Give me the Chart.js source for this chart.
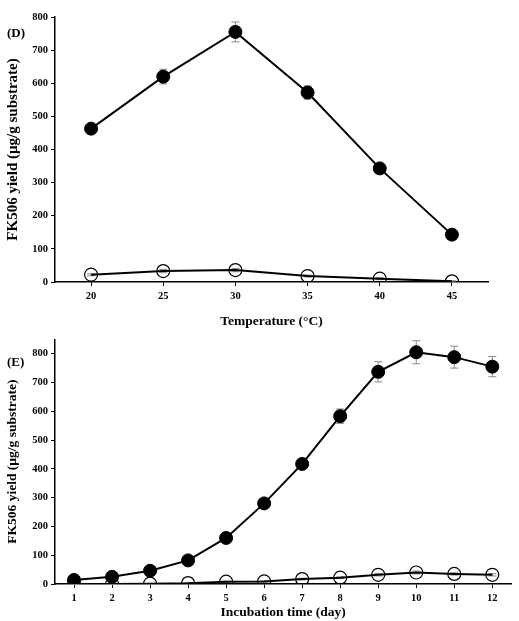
<!DOCTYPE html>
<html>
<head>
<meta charset="utf-8">
<script src="https://cdn.jsdelivr.net/npm/chart.js@4"></script>
<style>
  body { margin: 0; background: #fff; }
  .panel { position: absolute; left: 0; width: 519px; }
  .tag { position: absolute; left: 7px; font: bold 13px "Liberation Serif", serif; color: #000; }
</style>
</head>
<body>
<div class="panel" style="top:0;height:330px"><canvas id="chartD"></canvas></div>
<div class="panel" style="top:330px;height:291px"><canvas id="chartE"></canvas></div>
<div class="tag" style="top:25px">(D)</div>
<div class="tag" style="top:354px">(E)</div>
<script>
// panel D : temperature
const tempLabels = ["20", "25", "30", "35", "40", "45"];
const tempFilled = [463, 620, 755, 572, 343, 143];
const tempFilledErr = [12, 22, 30, 20, 8, 6];
const tempOpen = [22, 33, 36, 18, 10, 2];
const tempOpenErr = [3, 5, 5, 3, 3, 2];

// panel E : incubation time
const dayLabels = ["1", "2", "3", "4", "5", "6", "7", "8", "9", "10", "11", "12"];
const dayFilled = [14, 25, 46, 82, 160, 280, 417, 583, 737, 805, 788, 755];
const dayFilledErr = [4, 5, 6, 8, 10, 12, 12, 25, 35, 40, 38, 35];
const dayOpen = [0, 0, 1, 3, 8, 9, 17, 22, 32, 40, 35, 32];
const dayOpenErr = [1, 1, 1, 1, 2, 2, 3, 3, 4, 5, 4, 4];

const yTitle = "FK506 yield (\u00b5g/g substrate)";
const serif = "'Liberation Serif', 'Times New Roman', serif";

// grey error bars drawn under the markers
const errorBars = {
  id: "errorBars",
  beforeDatasetsDraw(chart) {
    const ctx = chart.ctx;
    const y = chart.scales.y;
    ctx.save();
    ctx.strokeStyle = "#8a8a8a";
    ctx.lineWidth = 1;
    chart.data.datasets.forEach((ds, i) => {
      const meta = chart.getDatasetMeta(i);
      meta.data.forEach((pt, j) => {
        const e = ds.errors[j];
        const top = y.getPixelForValue(ds.data[j] + e);
        const bot = y.getPixelForValue(ds.data[j] - e);
        ctx.beginPath();
        ctx.moveTo(pt.x, top); ctx.lineTo(pt.x, bot);
        ctx.moveTo(pt.x - 4, top); ctx.lineTo(pt.x + 4, top);
        ctx.moveTo(pt.x - 4, bot); ctx.lineTo(pt.x + 4, bot);
        ctx.stroke();
      });
    });
    ctx.restore();
  }
};

function makeChart(id, labels, filled, filledErr, open, openErr, xTitle, yMax, pad, xHeight, yTitleSize) {
  return new Chart(document.getElementById(id), {
    type: "line",
    plugins: [errorBars],
    data: {
      labels: labels,
      datasets: [
        {
          data: filled, errors: filledErr,
          borderColor: "#000", backgroundColor: "#000", borderWidth: 2,
          pointRadius: 6.5, pointBorderWidth: 1, tension: 0
        },
        {
          data: open, errors: openErr,
          borderColor: "#000", backgroundColor: "rgba(0,0,0,0)", borderWidth: 2,
          pointRadius: 6.5, pointBorderWidth: 1.2, tension: 0
        }
      ]
    },
    options: {
      responsive: true,
      maintainAspectRatio: false,
      animation: false,
      layout: { padding: pad },
      plugins: { legend: { display: false }, tooltip: { enabled: false } },
      scales: {
        x: {
          type: "category",
          offset: true,
          grid: { display: true, offset: false, drawOnChartArea: false, tickLength: 4, color: "#000" },
          border: { display: true, color: "#000", width: 1.5 },
          ticks: { color: "#000", font: { family: serif, weight: "bold", size: 10.5 }, padding: 4, maxRotation: 0 },
          title: { display: true, text: xTitle, color: "#000", font: { family: serif, weight: "bold", size: 13.5 }, padding: { top: 5, bottom: 0 } },
          afterFit(s) { s.height = xHeight; }
        },
        y: {
          min: 0, max: yMax,
          grid: { display: true, drawOnChartArea: false, tickLength: 4, color: "#000" },
          border: { display: true, color: "#000", width: 1.5 },
          ticks: { stepSize: 100, color: "#000", font: { family: serif, weight: "bold", size: 10.5 }, padding: 3 },
          afterBuildTicks(s) { s.ticks = s.ticks.filter(t => t.value <= 800); },
          title: { display: true, text: yTitle, color: "#000", font: { family: serif, weight: "bold", size: yTitleSize }, padding: { top: 4, bottom: 4 } },
          afterFit(s) { s.width = 55; }
        }
      }
    }
  });
}

makeChart("chartD", tempLabels, tempFilled, tempFilledErr, tempOpen, tempOpenErr,
  "Temperature (\u00b0C)", 800, { top: 17, right: 31, left: 0, bottom: 0 }, 48, 15);
makeChart("chartE", dayLabels, dayFilled, dayFilledErr, dayOpen, dayOpenErr,
  "Incubation time (day)", 850, { top: 3, right: 3, left: 0, bottom: 0 }, 37, 13.5);
</script>
</body>
</html>
